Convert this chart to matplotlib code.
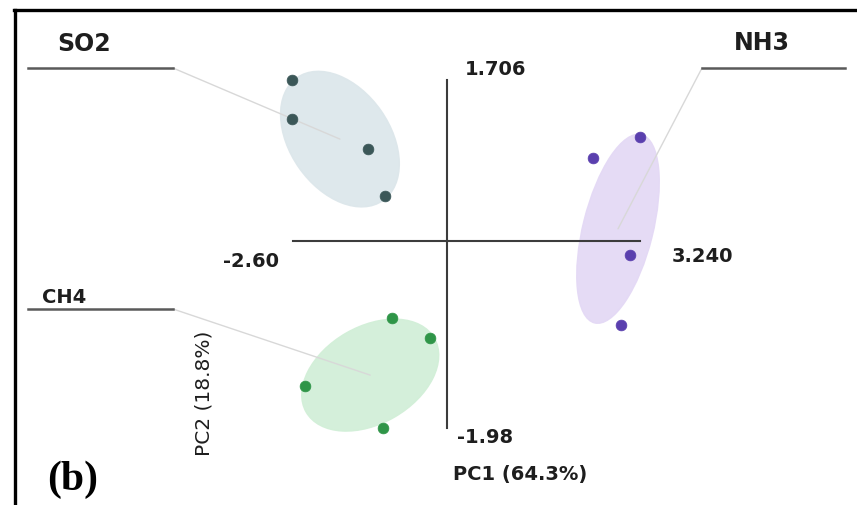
import matplotlib
matplotlib.use("Agg")
import matplotlib.pyplot as plt
import matplotlib.transforms as mtransforms
from matplotlib.patches import Ellipse
from matplotlib.lines import Line2D

W, H = 857, 505

# PCA scores (PC1, PC2 per gas, 4 replicates each)
so2_pc1 = [-2.62, -2.62, -1.34, -1.05]
so2_pc2 = [1.706, 1.29, 0.98, 0.48]
nh3_pc1 = [3.24, 2.45, 3.07, 2.92]
nh3_pc2 = [1.10, 0.88, -0.15, -0.89]
ch4_pc1 = [-0.93, -0.29, -2.40, -1.09]
ch4_pc2 = [-0.82, -1.03, -1.53, -1.98]

pc1_range = (-2.60, 3.240)
pc2_range = (-1.98, 1.706)
pc1_label = "PC1 (64.3%)"
pc2_label = "PC2 (18.8%)"
panel_label = "(b)"

TEXT = "#1e1e1e"


def fig_xy(px, py):
    """Pixel position (from top-left) to figure fraction."""
    return px / W, 1 - py / H


fig = plt.figure(figsize=(W / 100, H / 100), dpi=100)
fig.patch.set_facecolor("white")

ax = fig.add_axes([293 / W, 1 - 428 / H, 347 / W, 348 / H])
ax.set_xlim(*pc1_range)
ax.set_ylim(*pc2_range)
ax.axis("off")

# frame: only top and left edges are visible
fig.add_artist(Line2D([14 / W, 1], [1 - 9.5 / H] * 2, transform=fig.transFigure,
                      color="black", lw=2.4))
fig.add_artist(Line2D([15 / W] * 2, [0, 1 - 9.5 / H], transform=fig.transFigure,
                      color="black", lw=2.4))

# axis cross (drawn over the ellipses)
ax.plot([0, 0], pc2_range, color="#3c3c3c", lw=1.5, clip_on=False, zorder=3.5)
ax.plot(pc1_range, [0, 0], color="#3c3c3c", lw=1.5, clip_on=False, zorder=3.5)

groups = [
    # name, pc1, pc2, point colour, ellipse fill, ellipse centre, size (in), angle,
    # label pos (px), underline (px), font size
    dict(name="SO2", x=so2_pc1, y=so2_pc2, c="#3b5758", fill="#dde7eb",
         centre=(-1.81, 1.08), size=(1.50, 1.00), angle=-55,
         label=(57, 51), fs=17, line=(28, 173, 68), anchor=(173, 68)),
    dict(name="NH3", x=nh3_pc1, y=nh3_pc2, c="#5a3fae", fill="#e4d9f5",
         centre=(2.87, 0.13), size=(1.94, 0.70), angle=76,
         label=(734, 50), fs=17, line=(702, 845, 68), anchor=(702, 68)),
    dict(name="CH4", x=ch4_pc1, y=ch4_pc2, c="#2f9548", fill="#d2efd8",
         centre=(-1.30, -1.42), size=(1.48, 0.97), angle=30,
         label=(42, 303), fs=14, line=(28, 173, 309), anchor=(173, 309)),
]

for g in groups:
    cx, cy = g["centre"]
    trans = fig.dpi_scale_trans + mtransforms.ScaledTranslation(cx, cy, ax.transData)
    ell = Ellipse((0, 0), g["size"][0], g["size"][1], angle=g["angle"],
                  transform=trans, facecolor=g["fill"], edgecolor=g["fill"],
                  lw=1.0, alpha=0.95, zorder=2, clip_on=False)
    ax.add_patch(ell)

    ax.annotate("", xy=(cx, cy), xycoords="data",
                xytext=fig_xy(*g["anchor"]), textcoords="figure fraction",
                arrowprops=dict(arrowstyle="-", color="#d8d8d8", lw=1.0,
                                shrinkA=0, shrinkB=0), zorder=3)

    ax.scatter(g["x"], g["y"], s=60, color=g["c"], edgecolors=g["c"],
               linewidths=0.5, clip_on=False, zorder=4)

    x0, x1, ly = g["line"]
    fig.add_artist(Line2D([x0 / W, x1 / W], [1 - ly / H] * 2,
                          transform=fig.transFigure, color="#5a5a5a", lw=1.8))
    fig.text(*fig_xy(*g["label"]), g["name"], fontsize=g["fs"], fontweight="bold",
             color=TEXT, va="baseline", ha="left")

# range labels at the ends of the axis cross
num_kw = dict(fontsize=14, fontweight="bold", color=TEXT, va="baseline", ha="left")
fig.text(*fig_xy(465, 75), f"{pc2_range[1]:.3f}", **num_kw)
fig.text(*fig_xy(223, 267), f"{pc1_range[0]:.2f}", **num_kw)
fig.text(*fig_xy(672, 262), f"{pc1_range[1]:.3f}", **num_kw)
fig.text(*fig_xy(457, 443), f"{pc2_range[0]:.2f}", **num_kw)

fig.text(*fig_xy(453, 480), pc1_label, **num_kw)
fig.text(*fig_xy(204, 393), pc2_label, fontsize=14.5, color=TEXT,
         rotation=90, ha="center", va="center")

fig.text(*fig_xy(47, 490), panel_label, fontsize=30, fontweight="bold",
         family="Liberation Serif", color="black", va="baseline", ha="left")

fig.savefig("out.png", dpi=100, facecolor="white")
